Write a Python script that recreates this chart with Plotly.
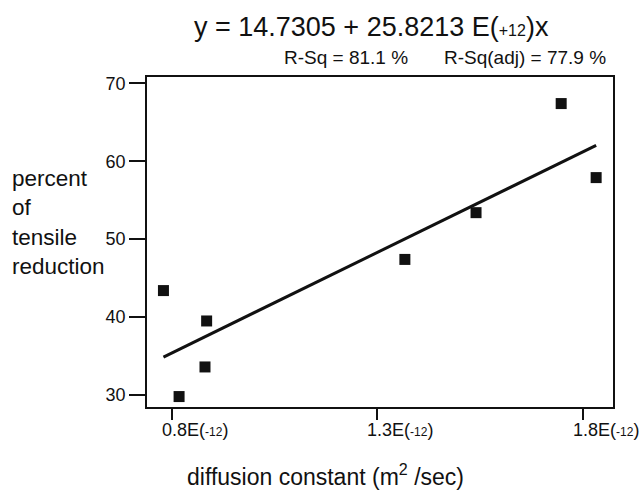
import plotly.graph_objects as go

# ---- data ----
diffusion = [0.78, 0.818, 0.881, 0.885, 1.367, 1.540, 1.747, 1.832]   # x, in E(-12) m^2/sec
reduction = [43.4, 29.8, 33.6, 39.5, 47.4, 53.4, 67.4, 57.9]          # percent of tensile reduction

intercept = 14.7305
slope = 25.8213
r_sq = 81.1
r_sq_adj = 77.9

x_tick_vals = [0.8, 1.3, 1.8]
x_tick_text = ["0.8", "1.3", "1.8"]
x_exponent = "-12"
y_tick_vals = [30, 40, 50, 60, 70]

FONT = "Liberation Sans, Arial, Helvetica, sans-serif"
INK = "#111111"

fit_x = [min(diffusion), max(diffusion)]
fit_y = [intercept + slope * v for v in fit_x]

fig = go.Figure()
fig.add_trace(go.Scatter(
    x=fit_x, y=fit_y, mode="lines",
    line=dict(color=INK, width=3), showlegend=False, hoverinfo="skip"))
fig.add_trace(go.Scatter(
    x=diffusion, y=reduction, mode="markers",
    marker=dict(symbol="square", size=11, color=INK, line=dict(width=0)),
    showlegend=False))

fig.update_layout(
    width=642, height=494,
    margin=dict(l=147, r=29, t=77, b=87),
    paper_bgcolor="white", plot_bgcolor="white",
    font=dict(family=FONT, color=INK),
    xaxis=dict(range=[0.740, 1.873], showgrid=False, zeroline=False,
               showline=True, mirror=True, linecolor=INK, linewidth=1.5,
               ticks="outside", ticklen=11, tickwidth=1.5, tickcolor=INK,
               tickvals=x_tick_vals, showticklabels=False),
    yaxis=dict(range=[28.46, 70.81], showgrid=False, zeroline=False,
               showline=True, mirror=True, linecolor=INK, linewidth=1.5,
               ticks="outside", ticklen=16, tickwidth=1.5, tickcolor=INK,
               tickvals=y_tick_vals, tickfont=dict(size=18, family=FONT, color=INK)),
)

ann = []
# title equation
ann.append(dict(
    text=f"y = {intercept} + {slope} E(<span style='font-size:16px'>+12</span>)x",
    x=0.481, y=1.1515, xref="paper", yref="paper", xanchor="center", yanchor="middle",
    showarrow=False, font=dict(size=27, family=FONT, color=INK)))
ann.append(dict(
    text=f"R-Sq = {r_sq} %", x=0.289, y=1.0606, xref="paper", yref="paper",
    xanchor="left", yanchor="middle", showarrow=False,
    font=dict(size=19, family=FONT, color=INK)))
ann.append(dict(
    text=f"R-Sq(adj) = {r_sq_adj} %", x=0.632, y=1.0606, xref="paper", yref="paper",
    xanchor="left", yanchor="middle", showarrow=False,
    font=dict(size=19, family=FONT, color=INK)))
# y-axis title
ann.append(dict(
    text="percent<br>of<br>tensile<br>reduction", x=-0.294, y=0.56,
    xref="paper", yref="paper", xanchor="left", yanchor="middle", align="left",
    showarrow=False, font=dict(size=22.5, family=FONT, color=INK)))
# x-axis title
ann.append(dict(
    text="diffusion constant (m<sup>2</sup> /sec)", x=0.384, y=-0.206,
    xref="paper", yref="paper", xanchor="center", yanchor="middle",
    showarrow=False, font=dict(size=23, family=FONT, color=INK)))
# x tick labels
for v, t in zip(x_tick_vals, x_tick_text):
    ann.append(dict(
        text=f"{t}E(<span style='font-size:12px'>{x_exponent}</span>)",
        x=v, y=-0.0697, xref="x", yref="paper", xanchor="left", yanchor="middle",
        xshift=-12, showarrow=False, font=dict(size=18, family=FONT, color=INK)))
fig.update_layout(annotations=ann)

fig.write_html("out.html", config={"displayModeBar": False},
               post_script="document.body.style.margin='0px';document.body.style.overflow='hidden';")
